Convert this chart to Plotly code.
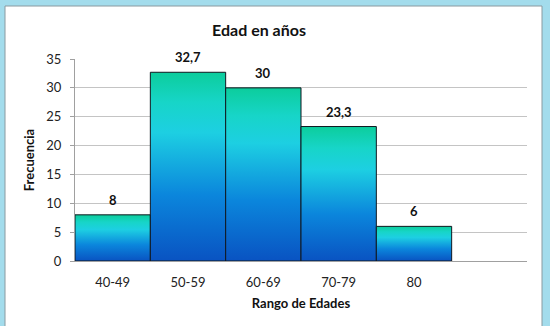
import plotly.graph_objects as go

categories = ["40-49", "50-59", "60-69", "70-79", "80"]
values = [8, 32.7, 30, 23.3, 6]
y_ticks = [0, 5, 10, 15, 20, 25, 30, 35]

FONT = "Lato"
colorscale = [
    [0.0, "#0953c2"],
    [0.35, "#0b86dc"],
    [0.68, "#1dcfe2"],
    [0.84, "#17d5c8"],
    [1.0, "#0ccd9c"],
]

fig = go.Figure()

for i, v in enumerate(values):
    x0, x1 = i - 0.5, i + 0.5
    fig.add_trace(go.Scatter(
        x=[x0, x1, x1, x0, x0],
        y=[0, 0, v, v, 0],
        mode="lines",
        fill="toself",
        fillgradient=dict(type="vertical", colorscale=colorscale),
        line=dict(color="#101820", width=1),
        hoverinfo="skip",
        showlegend=False,
    ))

labels = [f"{v:g}".replace(".", ",") for v in values]
for i, (v, t) in enumerate(zip(values, labels)):
    fig.add_annotation(
        x=i, y=v, text=f"<b>{t}</b>", showarrow=False,
        yanchor="middle", yshift=15,
        font=dict(family=FONT, size=13, color="#111111"),
    )

# card background and border
fig.add_shape(type="rect", xref="paper", yref="paper",
              x0=-70 / 452, x1=1 + 15 / 452, y0=-70 / 202, y1=1 + 53 / 202,
              fillcolor="white", line=dict(color="#8a9aa0", width=1), layer="below")

fig.update_layout(
    width=550, height=326,
    margin=dict(l=75, r=23, t=59, b=65),
    paper_bgcolor="#a3dcec",
    plot_bgcolor="rgba(0,0,0,0)",
    title=dict(text="<b>Edad en años</b>", xref="paper", x=(259 - 75) / 452, xanchor="center",
               y=1 - 30 / 326, yanchor="middle",
               font=dict(family=FONT, size=16, color="#111111")),
    font=dict(family=FONT, size=13, color="#222222"),
    xaxis=dict(
        range=[-0.5, 5.5], tickmode="array", tickvals=list(range(len(categories))), ticktext=categories,
        showgrid=False, zeroline=False, showline=True, linecolor="#a0a0a0", linewidth=1,
        ticks="", ticklabelstandoff=9, tickfont=dict(family=FONT, size=13, color="#222222"),
        title=dict(text="<b>Rango de Edades</b>", font=dict(family=FONT, size=13, color="#111111"), standoff=10),
        fixedrange=True,
    ),
    yaxis=dict(
        range=[0, 35], tickmode="array", tickvals=y_ticks,
        showgrid=True, gridcolor="#c4c4c4", gridwidth=1, zeroline=False,
        showline=True, linecolor="#a0a0a0", linewidth=1,
        ticks="outside", ticklen=4, tickcolor="#a0a0a0", ticklabelstandoff=6,
        tickfont=dict(family=FONT, size=13, color="#222222"),
        title=dict(text="<b>Frecuencia</b>", font=dict(family=FONT, size=13, color="#111111"), standoff=8),
        fixedrange=True,
    ),
)

fig.write_html("out.html")
